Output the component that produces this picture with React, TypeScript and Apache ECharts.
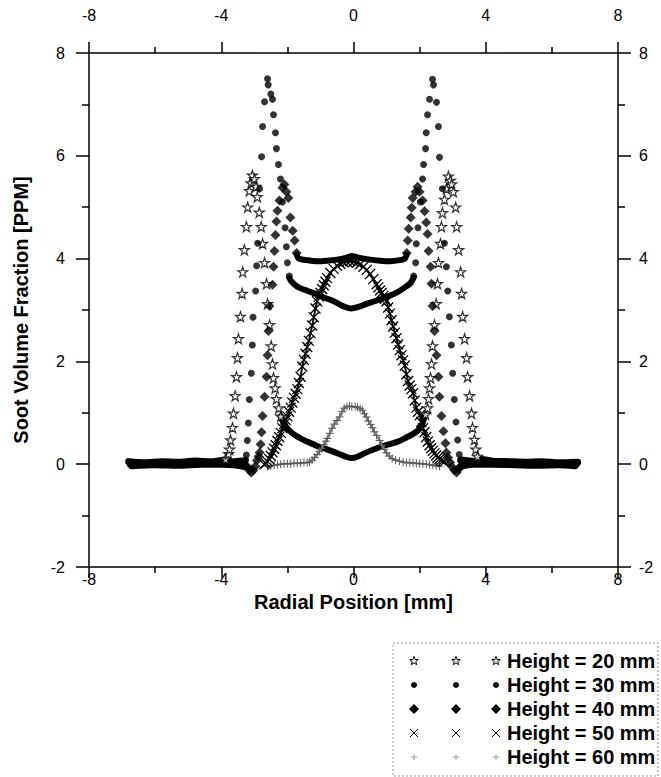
import React, { useEffect, useRef } from "react";
import * as echarts from "echarts";

// Soot volume fraction profiles across the flame at five heights (x: mm, y: ppm)

// Height = 20 mm: individual star markers on the steep flanks
const h20Markers: [number, number][] = [
  [-3.87, 0.1], [-3.78, 0.2], [-3.75, 0.29], [-3.72, 0.47], [-3.66, 0.71], [-3.63, 0.99], [-3.58, 1.33],
  [-3.54, 1.7], [-3.51, 2.07], [-3.48, 2.44], [-3.42, 2.87], [-3.37, 3.32], [-3.35, 3.74], [-3.3, 4.17],
  [-3.24, 4.62], [-3.2, 5.0], [-3.15, 5.32], [-3.1, 5.47], [-3.06, 5.62], [-3.0, 5.55],
  [-2.95, 5.4], [-2.91, 5.2], [-2.85, 4.9], [-2.79, 4.62], [-2.75, 4.29], [-2.69, 3.92], [-2.63, 3.51],
  [-2.6, 3.12], [-2.54, 2.71], [-2.49, 2.3], [-2.45, 1.95], [-2.42, 1.68], [-2.37, 1.48], [-2.33, 1.27],
  [-2.26, 1.09], [-2.2, 0.93],
  [2.18, 0.97], [2.24, 1.09], [2.27, 1.27], [2.3, 1.48], [2.33, 1.68], [2.36, 1.95], [2.39, 2.3],
  [2.45, 2.71], [2.5, 3.12], [2.54, 3.51], [2.57, 3.92], [2.63, 4.29], [2.66, 4.62], [2.69, 4.89],
  [2.75, 5.15], [2.81, 5.36],
  [2.87, 5.6], [2.93, 5.52], [2.97, 5.45], [3.02, 5.3], [3.09, 5.0], [3.12, 4.62], [3.18, 4.17],
  [3.24, 3.74], [3.27, 3.32], [3.3, 2.87], [3.36, 2.44], [3.42, 2.07], [3.45, 1.7], [3.51, 1.33],
  [3.57, 0.99], [3.6, 0.71], [3.66, 0.48], [3.7, 0.29], [3.75, 0.15],
];
// Height = 20 mm: densely sampled stretches (markers merge into a band)
const h20Core: [number, number][] = [
  [-2.2, 0.93], [-2.1, 0.78], [-1.95, 0.66], [-1.8, 0.58], [-1.63, 0.51], [-1.4, 0.44], [-1.12, 0.36],
  [-0.85, 0.3], [-0.63, 0.25], [-0.4, 0.19], [-0.2, 0.14], [-0.06, 0.12], [0.1, 0.14], [0.39, 0.23],
  [0.63, 0.29], [0.88, 0.35], [1.15, 0.4], [1.39, 0.45], [1.6, 0.52], [1.78, 0.58], [1.95, 0.66],
  [2.06, 0.76], [2.15, 0.93],
];
const h20BaseL: [number, number][] = [
  [-6.8, 0.05], [-6.3, 0.03], [-5.8, 0.05], [-5.3, 0.04], [-4.8, 0.06], [-4.3, 0.05], [-3.95, 0.08],
];
const h20BaseR: [number, number][] = [
  [3.8, 0.1], [4.2, 0.06], [4.7, 0.05], [5.2, 0.04], [5.7, 0.05], [6.2, 0.03], [6.78, 0.04],
];

// Height = 30 mm
const h30Markers: [number, number][] = [
  [-3.26, 0.08], [-3.24, 0.18], [-3.21, 0.46], [-3.18, 0.8], [-3.15, 1.26], [-3.09, 1.77], [-3.06, 2.32],
  [-3.04, 2.86], [-2.96, 3.37], [-2.93, 3.86], [-2.9, 4.3], [-2.84, 5.36], [-2.78, 5.98], [-2.75, 6.57],
  [-2.69, 7.05], [-2.58, 7.38], [-2.6, 7.5],
  [-2.5, 7.2], [-2.45, 7.1], [-2.42, 6.8], [-2.36, 6.45], [-2.33, 6.14], [-2.27, 5.83], [-2.21, 5.55],
  [-2.15, 5.1], [-2.07, 4.6], [-2.03, 4.23], [-2.0, 3.92], [-1.94, 3.66],
  [1.82, 3.66], [1.88, 3.92], [1.9, 4.29], [1.95, 4.6], [2.02, 5.1], [2.09, 5.55], [2.12, 5.83],
  [2.18, 6.14], [2.2, 6.45], [2.24, 6.8], [2.3, 7.1],
  [2.39, 7.49], [2.42, 7.38], [2.51, 7.04], [2.57, 6.57], [2.6, 5.97], [2.69, 5.36], [2.75, 4.3],
  [2.81, 3.84], [2.85, 3.37], [2.9, 2.87], [2.96, 2.32], [3.0, 1.77], [3.05, 1.26], [3.1, 0.82],
  [3.15, 0.47], [3.2, 0.19], [3.24, 0.08],
];
const h30Core: [number, number][] = [
  [-1.94, 3.62], [-1.88, 3.56], [-1.75, 3.48], [-1.63, 3.43], [-1.38, 3.37], [-1.12, 3.31], [-0.88, 3.24],
  [-0.63, 3.18], [-0.33, 3.08], [-0.06, 3.03], [0.15, 3.06], [0.39, 3.12], [0.63, 3.17], [0.88, 3.22],
  [1.15, 3.29], [1.39, 3.37], [1.6, 3.46], [1.72, 3.52], [1.82, 3.63],
];
const h30BaseL: [number, number][] = [
  [-6.75, 0.0], [-6.2, 0.02], [-5.6, 0.0], [-5.0, 0.02], [-4.4, 0.03], [-3.8, 0.04], [-3.3, 0.06],
];
const h30BaseR: [number, number][] = [
  [3.25, 0.08], [3.8, 0.04], [4.4, 0.03], [5.0, 0.01], [5.6, 0.02], [6.2, 0.0], [6.75, 0.01],
];

// Height = 40 mm
const h40Markers: [number, number][] = [
  [-3.22, -0.04], [-3.15, -0.12], [-3.09, -0.16], [-3.03, -0.12], [-2.97, -0.04], [-2.92, 0.07],
  [-2.87, 0.15], [-2.84, 0.23], [-2.81, 0.39], [-2.78, 0.62], [-2.75, 0.94], [-2.69, 1.31], [-2.63, 1.7],
  [-2.6, 2.12], [-2.57, 2.59], [-2.54, 3.08], [-2.45, 3.49], [-2.42, 3.84], [-2.39, 4.15], [-2.36, 4.46],
  [-2.33, 4.72], [-2.3, 4.93], [-2.24, 5.13], [-2.15, 5.38], [-2.09, 5.44], [-2.03, 5.3], [-1.97, 5.18],
  [-1.91, 4.8], [-1.84, 4.54], [-1.78, 4.35], [-1.72, 4.11],
  [1.61, 4.11], [1.64, 4.35], [1.67, 4.58], [1.73, 4.8], [1.76, 4.99], [1.79, 5.18], [1.88, 5.3],
  [1.94, 5.4], [2.0, 5.3], [2.09, 5.13], [2.15, 4.92], [2.2, 4.7], [2.24, 4.48], [2.27, 4.15],
  [2.33, 3.84], [2.36, 3.51], [2.39, 3.08], [2.45, 2.59], [2.51, 2.12], [2.57, 1.7], [2.6, 1.31],
  [2.66, 0.94], [2.72, 0.64], [2.78, 0.41], [2.81, 0.23], [2.86, 0.13], [2.92, 0.04], [2.98, -0.05],
  [3.05, -0.12], [3.12, -0.16], [3.18, -0.1], [3.24, -0.04],
];
const h40Core: [number, number][] = [
  [-1.72, 4.08], [-1.65, 4.0], [-1.4, 3.97], [-1.1, 3.95], [-0.8, 3.96], [-0.5, 3.98], [-0.2, 4.02],
  [-0.05, 4.05], [0.15, 4.02], [0.5, 3.98], [0.8, 3.96], [1.1, 3.95], [1.4, 3.97], [1.55, 4.0], [1.61, 4.08],
];
const h40BaseL: [number, number][] = [
  [-6.7, -0.03], [-6.0, -0.01], [-5.3, -0.02], [-4.6, 0.0], [-4.0, 0.0], [-3.5, -0.02], [-3.25, -0.05],
];
const h40BaseR: [number, number][] = [
  [3.25, -0.04], [3.6, 0.0], [4.2, 0.0], [4.9, -0.01], [5.6, -0.02], [6.2, -0.01], [6.7, -0.03],
];

// Height = 50 mm
const h50: [number, number][] = [
  [-2.7, 0.0], [-2.65, 0.02], [-2.6, 0.05], [-2.55, 0.1], [-2.5, 0.16], [-2.45, 0.23], [-2.4, 0.3],
  [-2.35, 0.37], [-2.3, 0.45], [-2.25, 0.53], [-2.2, 0.61], [-2.15, 0.7], [-2.1, 0.78], [-2.05, 0.86],
  [-2.0, 0.93], [-1.95, 1.02], [-1.9, 1.1], [-1.85, 1.2], [-1.8, 1.29], [-1.75, 1.37], [-1.7, 1.46],
  [-1.65, 1.58], [-1.6, 1.7], [-1.55, 1.9], [-1.5, 2.03], [-1.45, 2.15], [-1.4, 2.28], [-1.35, 2.4],
  [-1.3, 2.55], [-1.25, 2.7], [-1.2, 2.86], [-1.15, 3.03], [-1.1, 3.17], [-1.05, 3.26], [-1.0, 3.33],
  [-0.95, 3.41], [-0.9, 3.48], [-0.85, 3.55], [-0.8, 3.62], [-0.7, 3.72], [-0.6, 3.8], [-0.5, 3.86],
  [-0.4, 3.9], [-0.3, 3.93], [-0.2, 3.94], [-0.1, 3.95], [0.0, 3.94], [0.1, 3.92], [0.2, 3.89],
  [0.3, 3.84], [0.4, 3.78], [0.5, 3.7], [0.6, 3.6], [0.7, 3.5], [0.75, 3.44], [0.8, 3.38], [0.85, 3.33],
  [0.9, 3.27], [0.95, 3.22], [1.0, 3.17], [1.05, 3.05], [1.1, 2.93], [1.15, 2.8], [1.2, 2.68],
  [1.25, 2.56], [1.3, 2.45], [1.35, 2.33], [1.4, 2.22], [1.45, 2.12], [1.5, 2.02], [1.55, 1.92],
  [1.6, 1.75], [1.65, 1.62], [1.7, 1.53], [1.75, 1.46], [1.8, 1.38], [1.85, 1.24], [1.9, 1.1],
  [1.95, 1.02], [2.0, 0.95], [2.05, 0.82], [2.1, 0.7], [2.15, 0.62], [2.2, 0.53], [2.25, 0.44],
  [2.3, 0.37], [2.35, 0.31], [2.4, 0.26], [2.45, 0.21], [2.5, 0.17], [2.55, 0.13], [2.6, 0.1],
  [2.65, 0.08], [2.7, 0.06], [2.75, 0.05],
];

// Height = 60 mm
const h60: [number, number][] = [
  [-2.6, -0.04], [-2.5, -0.03], [-2.4, -0.02], [-2.3, -0.01], [-2.2, 0.0], [-2.1, 0.01], [-2.0, 0.01],
  [-1.9, 0.01], [-1.8, 0.02], [-1.7, 0.02], [-1.6, 0.02], [-1.5, 0.03], [-1.4, 0.03], [-1.33, 0.04],
  [-1.25, 0.08], [-1.18, 0.13], [-1.1, 0.19], [-1.03, 0.25], [-0.97, 0.3], [-0.9, 0.38], [-0.83, 0.45],
  [-0.79, 0.5], [-0.72, 0.6], [-0.65, 0.7], [-0.58, 0.78], [-0.5, 0.85], [-0.42, 0.92], [-0.35, 1.02],
  [-0.28, 1.09], [-0.2, 1.12], [-0.12, 1.13], [-0.05, 1.12], [0.05, 1.12], [0.12, 1.11], [0.2, 1.08],
  [0.27, 1.05], [0.33, 0.98], [0.39, 0.92], [0.45, 0.84], [0.52, 0.77], [0.57, 0.71], [0.63, 0.63],
  [0.7, 0.56], [0.79, 0.46], [0.86, 0.37], [0.93, 0.29], [1.0, 0.22], [1.08, 0.16], [1.17, 0.11],
  [1.27, 0.08], [1.39, 0.06], [1.5, 0.04], [1.6, 0.03], [1.7, 0.03], [1.8, 0.02], [1.9, 0.02],
  [2.0, 0.01], [2.1, 0.01], [2.2, 0.0], [2.3, -0.01], [2.4, -0.02], [2.5, -0.03], [2.6, -0.04],
];

const legendLabels = ["Height = 20 mm", "Height = 30 mm", "Height = 40 mm", "Height = 50 mm", "Height = 60 mm"];

const FONT = "'Liberation Sans', Arial, sans-serif";
const STAR = "path://M50,2 L61,36 L97,36 L68,57 L79,92 L50,71 L21,92 L32,57 L3,36 L39,36 Z";
const CROSS = "path://M0,0 L10,10 M10,0 L0,10";
const PLUS = "path://M5,0 L5,10 M0,5 L10,5";

function band(data: [number, number][], width: number) {
  return {
    type: "line",
    data,
    symbol: "none",
    smooth: 0.3,
    z: 2,
    lineStyle: { color: "#000", width, cap: "round", join: "round" },
    silent: true,
  };
}

function starPoints(cx: number, cy: number, r: number): number[][] {
  const pts: number[][] = [];
  for (let i = 0; i < 10; i++) {
    const rr = i % 2 === 0 ? r : r * 0.42;
    const a = -Math.PI / 2 + (i * Math.PI) / 5;
    pts.push([cx + rr * Math.cos(a), cy + rr * Math.sin(a)]);
  }
  return pts;
}

function legendGraphic() {
  const left = 393, top = 643, w = 265, h = 133;
  const rowY = [661, 685, 709, 733, 757];
  const colX = [414, 456, 496];
  const els: any[] = [
    {
      type: "rect",
      shape: { x: left, y: top, width: w, height: h },
      style: { fill: "#fff", stroke: "#999", lineWidth: 1, lineDash: [2, 2] },
    },
  ];
  rowY.forEach((y, row) => {
    colX.forEach((x) => {
      if (row === 0) {
        els.push({ type: "polygon", shape: { points: starPoints(x, y, 4.5) }, style: { fill: "#fff", stroke: "#000", lineWidth: 1 } });
      } else if (row === 1) {
        els.push({ type: "circle", shape: { cx: x, cy: y, r: 3 }, style: { fill: "#000" } });
      } else if (row === 2) {
        els.push({ type: "polygon", shape: { points: [[x, y - 5], [x + 5, y], [x, y + 5], [x - 5, y]] }, style: { fill: "#000" } });
      } else if (row === 3) {
        els.push({ type: "line", shape: { x1: x - 4, y1: y - 4, x2: x + 4, y2: y + 4 }, style: { stroke: "#000", lineWidth: 1 } });
        els.push({ type: "line", shape: { x1: x + 4, y1: y - 4, x2: x - 4, y2: y + 4 }, style: { stroke: "#000", lineWidth: 1 } });
      } else {
        els.push({ type: "line", shape: { x1: x, y1: y - 3, x2: x, y2: y + 3 }, style: { stroke: "#999", lineWidth: 1 } });
        els.push({ type: "line", shape: { x1: x - 3, y1: y, x2: x + 3, y2: y }, style: { stroke: "#999", lineWidth: 1 } });
      }
    });
    els.push({
      type: "text",
      x: 507,
      y,
      style: { text: legendLabels[row], fill: "#000", font: `bold 20px ${FONT}`, verticalAlign: "middle", align: "left" },
    });
  });
  return els;
}

function xAxisDef(position: "top" | "bottom") {
  return {
    type: "value",
    position,
    min: -8,
    max: 8,
    interval: 4,
    axisLine: { show: true, onZero: false, lineStyle: { color: "#000", width: 1.5 } },
    axisTick: { show: true, inside: false, length: 11, lineStyle: { color: "#000", width: 1.5 } },
    minorTick: { show: true, splitNumber: 2, length: 6, lineStyle: { color: "#000", width: 1.5 } },
    splitLine: { show: false },
    minorSplitLine: { show: false },
    axisLabel: { color: "#000", fontSize: 16, fontFamily: FONT, margin: position === "top" ? 30 : 4 },
    ...(position === "bottom"
      ? {
          name: "Radial Position [mm]",
          nameLocation: "middle",
          nameGap: 19,
          nameTextStyle: { color: "#000", fontSize: 20, fontWeight: "bold", fontFamily: FONT },
        }
      : {}),
  };
}

function yAxisDef(position: "left" | "right") {
  return {
    type: "value",
    position,
    min: -2,
    max: 8,
    interval: 2,
    axisLine: { show: true, onZero: false, lineStyle: { color: "#000", width: 1.5 } },
    axisTick: { show: true, inside: false, length: 13, lineStyle: { color: "#000", width: 1.5 } },
    minorTick: { show: true, splitNumber: 2, length: 7, lineStyle: { color: "#000", width: 1.5 } },
    splitLine: { show: false },
    minorSplitLine: { show: false },
    axisLabel: { color: "#000", fontSize: 16, fontFamily: FONT, margin: position === "left" ? 24 : 21 },
    ...(position === "left"
      ? {
          name: "Soot Volume Fraction [PPM]",
          nameLocation: "middle",
          nameGap: 58,
          nameTextStyle: { color: "#000", fontSize: 20, fontWeight: "bold", fontFamily: FONT },
        }
      : {}),
  };
}

export default function App() {
  const ref = useRef<HTMLDivElement>(null);

  useEffect(() => {
    if (!ref.current) return;
    const chart = echarts.init(ref.current, undefined, { renderer: "svg" });
    chart.setOption({
      animation: false,
      backgroundColor: "#fff",
      textStyle: { fontFamily: FONT },
      grid: { left: 89, right: 43, top: 53, bottom: 210, containLabel: false },
      xAxis: [xAxisDef("bottom"), xAxisDef("top")],
      yAxis: [yAxisDef("left"), yAxisDef("right")],
      series: [
        band(h20BaseL, 7), band(h20BaseR, 7),
        band(h30BaseL, 7), band(h30BaseR, 7),
        band(h40BaseL, 7), band(h40BaseR, 7),
        band(h20Core, 6), band(h30Core, 6), band(h40Core, 6),
        {
          type: "line",
          name: "Height = 60 mm",
          data: h60,
          symbol: PLUS,
          symbolSize: 8,
          showAllSymbol: true,
          z: 3,
          lineStyle: { color: "#808080", width: 2 },
          itemStyle: { color: "transparent", borderColor: "#5a5a5a", borderWidth: 1 },
        },
        {
          type: "line",
          name: "Height = 50 mm",
          data: h50,
          symbol: CROSS,
          symbolSize: 10,
          showAllSymbol: true,
          z: 4,
          lineStyle: { color: "#111", width: 2 },
          itemStyle: { color: "transparent", borderColor: "#000", borderWidth: 1.3 },
        },
        {
          type: "scatter",
          name: "Height = 20 mm",
          data: h20Markers,
          symbol: STAR,
          symbolSize: 10,
          z: 5,
          itemStyle: { color: "#fff", borderColor: "#000", borderWidth: 1.2 },
        },
        {
          type: "scatter",
          name: "Height = 30 mm",
          data: h30Markers,
          symbol: "circle",
          symbolSize: 7,
          z: 5,
          itemStyle: { color: "#000" },
        },
        {
          type: "scatter",
          name: "Height = 40 mm",
          data: h40Markers,
          symbol: "diamond",
          symbolSize: 10,
          z: 5,
          itemStyle: { color: "#000" },
        },
      ],
      graphic: legendGraphic(),
    });
    return () => chart.dispose();
  }, []);

  return (
    <div
      ref={ref}
      style={{ position: "absolute", left: 0, top: 0, width: 661, height: 777, background: "#fff" }}
    />
  );
}
